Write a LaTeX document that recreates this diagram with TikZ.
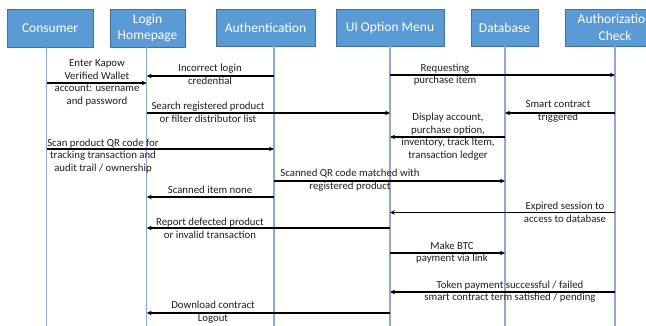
\documentclass[tikz,border=0pt]{standalone}
\usepackage{fontspec}
\setmainfont{Carlito}
\usetikzlibrary{arrows.meta}
\definecolor{boxfill}{HTML}{5B9BD5}
\definecolor{boxline}{HTML}{41719C}
\definecolor{lifec}{HTML}{8EAAD0}
\tikzset{
  actor/.style={draw=boxline, fill=boxfill, text=white, line width=0.8pt, inner sep=0pt, align=center,
    font=\fontsize{13.5}{16.5}\selectfont},
  life/.style={draw=lifec, line width=1.3pt},
  msg/.style={draw=black, line width=1.1pt, -{Stealth[length=5pt,width=4.5pt]}},
  lbl/.style={align=center, inner sep=0pt, text=black!88, font=\fontsize{10.8}{12.6}\selectfont}
}
\begin{document}
\begin{tikzpicture}[x=1pt,y=-1pt]
\useasboundingbox (0,0) rectangle (646,326);
\clip (0,0) rectangle (646,326);
\fill[white] (0,0) rectangle (646,326);
% actors
\node[actor, minimum width=86pt, minimum height=38pt] (cons) at (50,28) {Consumer};
\node[actor, minimum width=75pt, minimum height=38pt] (login) at (147.5,28) {Login\\Homepage};
\node[actor, minimum width=99pt, minimum height=37pt] (auth) at (265.5,27.5) {Authentication};
\node[actor, minimum width=108pt, minimum height=37pt] (ui) at (390,27.5) {UI Option Menu};
\node[actor, minimum width=67pt, minimum height=37pt] (db) at (504.5,27.5) {Database};
\node[actor, minimum width=100pt, minimum height=37pt] (ac) at (615,27.5) {Authorization\\Check};
% lifeline coordinates
\coordinate (l1) at (46.7,47); \coordinate (e1) at (46.7,330);
\coordinate (l2) at (146.7,47); \coordinate (e2) at (146.7,330);
\coordinate (l3) at (274,46); \coordinate (e3) at (274,330);
\coordinate (l4) at (390,46); \coordinate (e4) at (390,330);
\coordinate (l5) at (505,46); \coordinate (e5) at (505,330);
\coordinate (l6) at (615,46); \coordinate (e6) at (615,330);
\foreach \i in {1,...,6} { \draw[life] (l\i) -- (e\i); }
% messages
\draw[msg] (l1 |- 0,83) -- (l2 |- 0,83);
\draw[msg] (l3 |- 0,76) -- (l2 |- 0,76);
\draw[msg] (l4 |- 0,75) -- (l6 |- 0,75);
\draw[msg] (l2 |- 0,113) -- (l4 |- 0,113);
\draw[msg] (l6 |- 0,113) -- (l5 |- 0,113);
\draw[msg] (l5 |- 0,137) -- (l4 |- 0,137);
\draw[msg] (l1 |- 0,149) -- (l3 |- 0,149);
\draw[msg] (l3 |- 0,181) -- (l5 |- 0,181);
\draw[msg] (l3 |- 0,197) -- (l2 |- 0,197);
\draw[msg] (l6 |- 0,212.5) -- (l4 |- 0,212.5);
\draw[msg] (l4 |- 0,228) -- (l2 |- 0,228);
\draw[msg] (l4 |- 0,253) -- (l5 |- 0,253);
\draw[msg] (l6 |- 0,292) -- (l4 |- 0,292);
\draw[msg] (l4 |- 0,313) -- (l2 |- 0,313);
% labels
\node[lbl] (t1) at (97,83) {Enter Kapow\\Verified Wallet\\account: username\\and password};
\node[lbl] (t2) at (210,74) {Incorrect login\\credential};
\node[lbl] (t3) at (445,74.5) {Requesting\\purchase item};
\node[lbl] (t4) at (208,112) {Search registered product\\or filter distributor list};
\node[lbl] (t5) at (558,111.5) {Smart contract\\triggered};
\node[lbl] (t6) at (448,136.5) {Display account,\\purchase option,\\inventory, track Item,\\transaction ledger};
\node[lbl] (t7) at (103,156) {Scan product QR code for\\tracking transaction and\\audit trail / ownership};
\node[lbl] (t8) at (350,180) {Scanned QR code matched with\\registered product};
\node[lbl] (t9) at (210,190) {Scanned item none};
\node[lbl] (t10) at (565,212) {Expired session to\\access to database};
\node[lbl] (t11) at (210,228) {Report defected product\\or invalid transaction};
\node[lbl] (t12) at (452,252.5) {Make BTC\\payment via link};
\node[lbl] (t13) at (510,291.5) {Token payment successful / failed\\smart contract term satisfied / pending};
\node[lbl] (t14) at (213,312) {Download contract\\Logout};
\end{tikzpicture}
\end{document}
